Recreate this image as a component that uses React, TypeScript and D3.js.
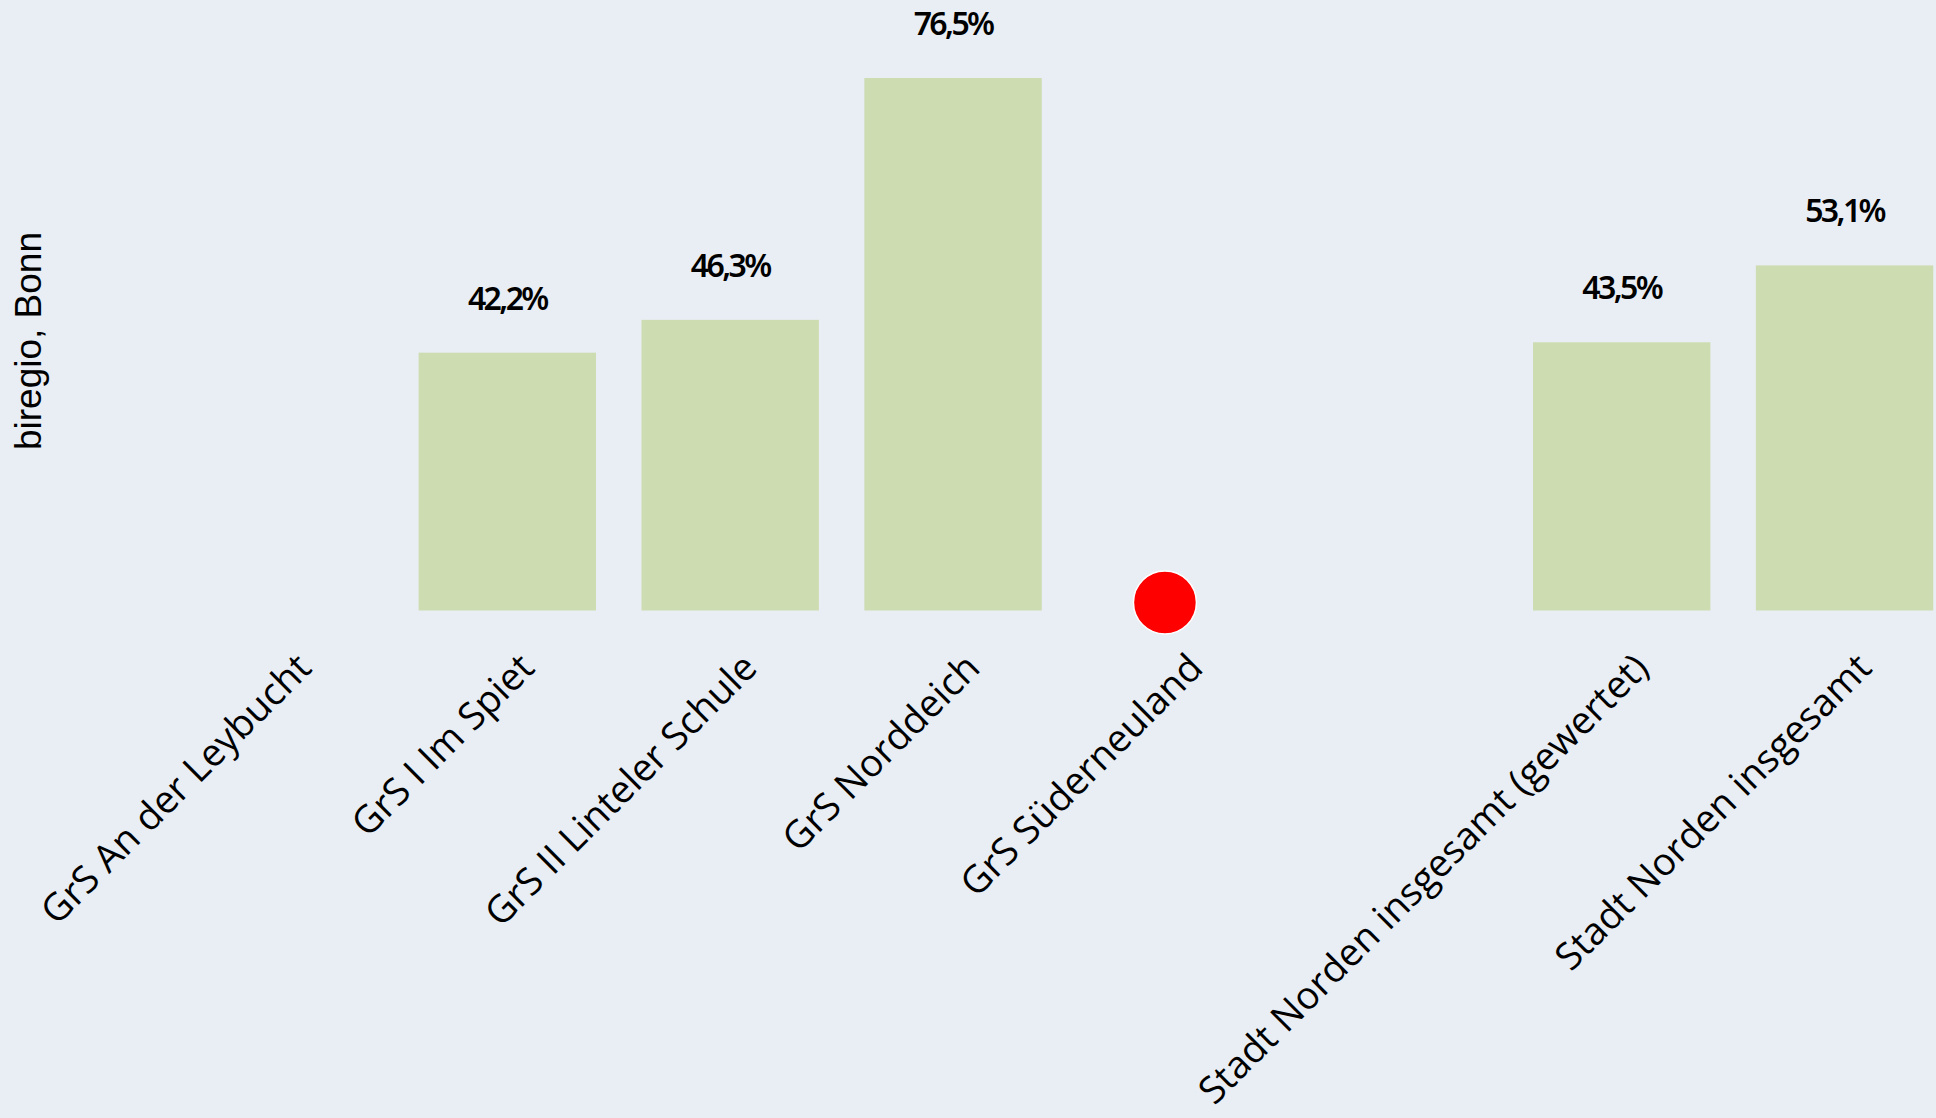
import { useEffect, useRef } from "react";
import * as d3 from "d3";

const CATEGORIES = [
  "GrS An der Leybucht",
  "GrS I Im Spiet",
  "GrS II Linteler Schule",
  "GrS Norddeich",
  "GrS Süderneuland",
  " ",
  "Stadt Norden insgesamt (gewertet)",
  "Stadt Norden insgesamt",
];
const VALUES: (number | null)[] = [null, 42.2, 46.3, 76.5, null, null, 43.5, 53.1];

// marker for the school without a value
const MARKER_CATEGORY = "GrS Süderneuland";
const MARKER_VALUE = 11;

const Y_TITLE = "biregio, Bonn";

const W = 1936, H = 1118;
const BG = "#e9eef5";
const BAR = "#cedcb1";

const de = d3.formatLocale({ decimal: ",", thousands: ".", grouping: [3], currency: ["", " €"] });
const fmt = de.format(".1f");

export default function App() {
  const svgRef = useRef<SVGSVGElement>(null);

  useEffect(() => {
    if (!svgRef.current) return;
    const svg = d3.select(svgRef.current);
    svg.selectAll("*").remove();

    const x = d3.scaleBand()
      .domain(CATEGORIES)
      .range([173, 1956])
      .paddingInner(0.204)
      .paddingOuter(0.102);

    const y = d3.scaleLinear().domain([10, 80]).range([610.5, 50]);

    svg.append("rect").attr("width", W).attr("height", H).attr("fill", BG);

    const data = CATEGORIES.map((c, i) => ({ cat: c, v: VALUES[i] }))
      .filter((d) => d.v !== null) as { cat: string; v: number }[];

    // --- Bars ---
    svg.append("g")
      .selectAll("rect")
      .data(data)
      .join("rect")
      .attr("x", (d) => x(d.cat)!)
      .attr("y", (d) => y(d.v))
      .attr("width", x.bandwidth())
      .attr("height", (d) => y(10) - y(d.v))
      .attr("fill", BAR);

    // --- Value labels ---
    svg.append("g")
      .selectAll("text")
      .data(data)
      .join("text")
      .attr("x", (d) => x(d.cat)! + x.bandwidth() / 2)
      .attr("y", (d) => y(d.v) - 43)
      .attr("text-anchor", "middle")
      .attr("font-family", "'Noto Sans', sans-serif")
      .attr("font-size", 32)
      .attr("font-weight", 600)
      .attr("letter-spacing", -2.6)
      .attr("fill", "#000")
      .text((d) => `${fmt(d.v)}%`);

    // --- Marker ---
    svg.append("circle")
      .attr("cx", x(MARKER_CATEGORY)! + x.bandwidth() / 2 - 11)
      .attr("cy", y(MARKER_VALUE))
      .attr("r", 31.5)
      .attr("fill", "#ff0000")
      .attr("stroke", "#fff")
      .attr("stroke-width", 1.5);

    // --- Category labels ---
    svg.append("g")
      .selectAll("text")
      .data(CATEGORIES.filter((c) => c.trim() !== ""))
      .join("text")
      .attr("transform", (c) => `translate(${x(c)! + x.bandwidth() / 2 + 29},670) rotate(-45)`)
      .attr("text-anchor", "end")
      .attr("font-family", "'Open Sans', sans-serif")
      .attr("font-size", 38)
      .attr("fill", "#000")
      .text((c) => c);

    // --- Y title ---
    svg.append("text")
      .attr("transform", `translate(40.5,341) rotate(-90)`)
      .attr("text-anchor", "middle")
      .attr("font-family", "'Liberation Sans', Arial, sans-serif")
      .attr("font-size", 37)
      .attr("fill", "#000")
      .text(Y_TITLE);
  }, []);

  return (
    <div style={{ position: "absolute", left: 0, top: 0, width: W, height: H, background: BG }}>
      <svg ref={svgRef} width={W} height={H} style={{ display: "block" }} />
    </div>
  );
}
